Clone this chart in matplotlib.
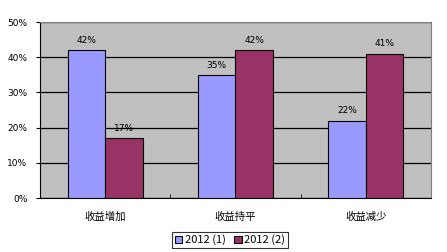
import numpy as np
import matplotlib.pyplot as plt
from matplotlib.ticker import FixedLocator

plt.rcParams['font.family'] = ['Noto Sans CJK SC', 'DejaVu Sans']

categories = ['收益增加', '收益持平', '收益减少']
series_names = ['2012 (1)', '2012 (2)']
s1 = [42, 35, 22]
s2 = [17, 42, 41]
colors = ['#9999FF', '#993366']

fig = plt.figure(figsize=(4.47, 2.52), dpi=100)
ax = fig.add_axes([40/447, 54/252, 391/447, 176/252])
ax.set_facecolor('#C0C0C0')

x = np.arange(len(categories))
w = 0.287
b1 = ax.bar(x - w/2, s1, w, color=colors[0], edgecolor='black', linewidth=0.8, label=series_names[0], zorder=3)
b2 = ax.bar(x + w/2, s2, w, color=colors[1], edgecolor='black', linewidth=0.8, label=series_names[1], zorder=3)
for bars, vals in ((b1, s1), (b2, s2)):
    for r, v in zip(bars, vals):
        ax.text(r.get_x() + r.get_width()/2, v + 1.5, f'{v}%', ha='center', va='bottom', fontsize=6.5, family='DejaVu Sans')

ax.set_xlim(-0.5, 2.5)
ax.set_ylim(0, 50)
ax.set_yticks(range(0, 51, 10))
ax.set_yticklabels([f'{t}%' for t in range(0, 51, 10)], fontsize=6.5, family='DejaVu Sans')
ax.yaxis.grid(True, color='black', linewidth=0.9, zorder=0)
ax.set_xticks(x)
ax.set_xticklabels(categories, fontsize=7.5)
ax.tick_params(axis='x', length=0, pad=10)
ax.xaxis.set_minor_locator(FixedLocator([0.5, 1.5]))
ax.tick_params(axis='x', which='minor', length=3, direction='in')
ax.tick_params(axis='y', length=3, pad=6)
for s in ['top', 'right']:
    ax.spines[s].set_color('#808080')
    ax.spines[s].set_linewidth(0.8)
ax.spines['left'].set_linewidth(0.8)
ax.spines['bottom'].set_linewidth(0.8)

leg = fig.legend(loc='center', bbox_to_anchor=(230/447, 1 - 240/252), ncol=2, fontsize=8,
                 frameon=True, fancybox=False, edgecolor='black', handlelength=0.7, handleheight=0.7,
                 handletextpad=0.2, columnspacing=0.8, borderpad=0.25, borderaxespad=0)
leg.get_frame().set_linewidth(0.8)

fig.savefig('out.png', dpi=100)
